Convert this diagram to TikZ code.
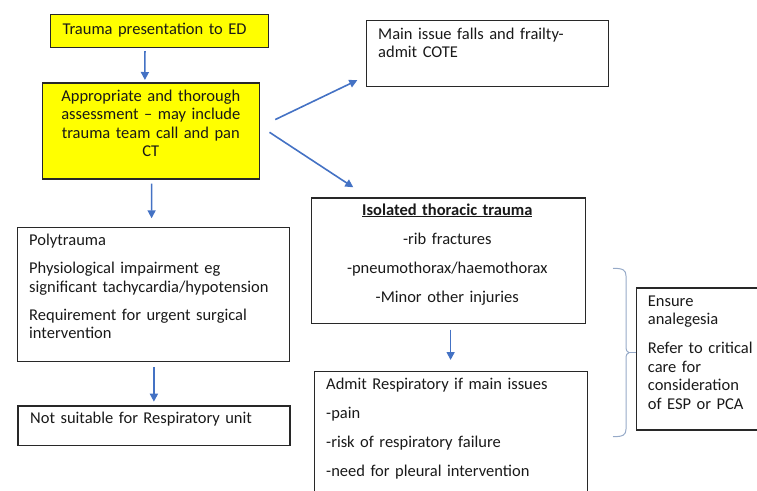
\documentclass[tikz,border=0pt]{standalone}
\usepackage{fontspec}
\setmainfont{Carlito}
\usetikzlibrary{arrows.meta}
\definecolor{arrblue}{RGB}{68,114,196}
\definecolor{bracec}{RGB}{150,170,200}
\definecolor{boxline}{RGB}{40,40,40}
\definecolor{ylw}{RGB}{255,255,0}
\definecolor{txtc}{RGB}{25,25,25}
\begin{document}
\begin{tikzpicture}[x=1pt,y=-1pt,
  box/.style={draw=boxline, line width=1.2pt, inner sep=0pt, anchor=north west},
  txt/.style={inner sep=0pt, text=txtc, font=\fontsize{16.5}{18.6}\selectfont, text width=#1, align=left, anchor=base west},
  ctxt/.style={inner sep=0pt, text=txtc, font=\fontsize{16.5}{18.6}\selectfont, text width=#1, align=center, anchor=base},
  arr/.style={draw=arrblue, line width=1.6pt, -{Triangle[length=8pt,width=8pt]}},
  brc/.style={draw=bracec, line width=1pt}]
\useasboundingbox (0,0) rectangle (757,490);
\begin{scope}
\clip (0,0) rectangle (757,490);
% boxes
\node[box, fill=ylw, minimum width=217.7, minimum height=32.7] (b1) at (50,14) {};
\node[box, fill=ylw, minimum width=217.3, minimum height=96] (b2) at (41.7,82.3) {};
\node[box, minimum width=241.7, minimum height=65.7] (mi) at (366,20) {};
\node[box, minimum width=272, minimum height=134.3] (poly) at (16.7,226.7) {};
\node[box, minimum width=272, minimum height=39.7] (ns) at (17.3,405.3) {};
\node[box, minimum width=274.3, minimum height=125.4] (iso) at (310.7,197.3) {};
\node[box, minimum width=272.7, minimum height=140] (adm) at (314,370.7) {};
\node[box, minimum width=140, minimum height=142] (ens) at (636,287.3) {};
% texts
\node[txt=200] (t1) at (62.3,34) {Trauma presentation to ED};
\node[ctxt=210] (t2) at (150.8,101) {Appropriate and thorough\\assessment – may include\\trauma team call and pan\\CT};
\node[txt=225] (t3) at (378,39.3) {Main issue falls and frailty-\\admit COTE};
\node[txt=265] (t4) at (29,245) {Polytrauma\\[10.3pt]Physiological impairment eg\\significant tachycardia/hypotension\\[9pt]Requirement for urgent surgical\\intervention};
\node[txt=255] (t5) at (30,423.3) {Not suitable for Respiratory unit};
\node[ctxt=265] (t6) at (447.3,215) {\underline{\textbf{Isolated thoracic trauma}}\\[10.4pt]-rib fractures\\[10.4pt]-pneumothorax/haemothorax\\[10.4pt]-Minor other injuries};
\node[txt=260] (t7) at (326,389) {Admit Respiratory if main issues\\[10.4pt]-pain\\[10.4pt]-risk of respiratory failure\\[10.4pt]-need for pleural intervention};
\node[txt=118] (t8) at (647.7,306) {Ensure\\analegesia\\[10.4pt]Refer to critical\\care for\\consideration\\of ESP or PCA};
% arrows
\draw[arr] ([xshift=-14.5pt,yshift=-3.3pt]b1.south) -- ([xshift=-6.05pt,yshift=2.3pt]b2.north);
\draw[arr] ([xshift=0.65pt,yshift=-4pt]b2.south) -- ([xshift=-1.7pt,yshift=8.4pt]poly.north);
\draw[arr] ([xshift=0.6pt,yshift=-4.7pt]poly.south) -- ([yshift=3.6pt]ns.north);
\draw[arr] ([xshift=2.15pt,yshift=-5.6pt]iso.south) -- ([xshift=-0.35pt,yshift=10.7pt]adm.north);
\draw[arr] ([xshift=15pt,yshift=11.3pt]b2.east) -- ([xshift=-8.7pt,yshift=6.7pt]mi.south west);
\draw[arr] ([xshift=9.3pt,yshift=-1.4pt]b2.east) -- ([xshift=42.6pt,yshift=10pt]iso.north west);
% brace
\coordinate (bm) at (629,352.7);
\draw[brc] (613,268.3) .. controls (623,268.3) and (626,270) .. (626,276) -- (626,346)
  .. controls (626,350) and (627,352.7) .. (bm)
  .. controls (627,352.7) and (626,355) .. (626,359) -- (626,429)
  .. controls (626,435) and (623,436.7) .. (613,436.7);
\draw[brc] (bm) -- (bm -| ens.west);
\end{scope}
\end{tikzpicture}
\end{document}
